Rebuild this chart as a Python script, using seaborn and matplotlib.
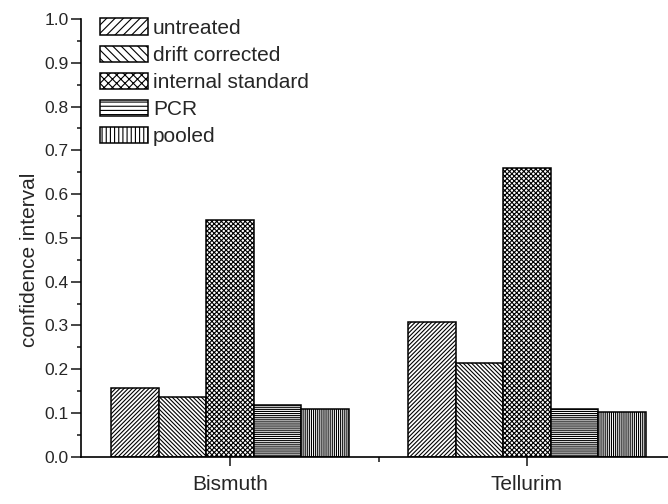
import matplotlib
matplotlib.use("Agg")
import matplotlib.pyplot as plt
from matplotlib.ticker import MultipleLocator, FixedLocator
import seaborn as sns
import pandas as pd

# Confidence interval per element and calibration method
elements = ["Bismuth", "Tellurim"]
methods = ["untreated", "drift corrected", "internal standard", "PCR", "pooled"]
bismuth_ci = [0.156, 0.137, 0.540, 0.119, 0.108]
tellurim_ci = [0.307, 0.215, 0.660, 0.108, 0.101]

# coarser hatches for the legend keys, finer ones inside the bars
legend_hatches = ["////", "\\\\\\\\", "xxxx", "----", "||||"]
bar_hatches = ["/" * 8, "\\" * 8, "x" * 7, "-" * 8, "|" * 8]

rows = []
for el, vals in zip(elements, [bismuth_ci, tellurim_ci]):
    for m, v in zip(methods, vals):
        rows.append({"element": el, "method": m, "ci": v})
df = pd.DataFrame(rows)

sns.set_style("ticks")
plt.rcParams["font.family"] = ["Liberation Sans", "DejaVu Sans"]
plt.rcParams["hatch.linewidth"] = 0.8
plt.rcParams["hatch.color"] = "black"

fig = plt.figure(figsize=(6.68, 5.04), dpi=100)
ax = fig.add_axes([81 / 668, 47.3 / 504, 1 - 81 / 668, (456.7 - 19) / 504])

sns.barplot(
    data=df, x="element", y="ci", hue="method", hue_order=methods,
    order=elements, palette=["white"] * len(methods), saturation=1,
    edgecolor="black", linewidth=1.1, width=0.8, ax=ax, legend=True,
)
ax.get_legend().remove()

# legend keys take the hatch of the first bar in each container
for container, h in zip(ax.containers, legend_hatches):
    for bar in container:
        bar.set_hatch(h)
fig.legend(
    handles=list(ax.containers), labels=methods,
    loc="upper left", bbox_to_anchor=(100 / 668, 1 - 18.5 / 504),
    bbox_transform=fig.transFigure, frameon=False, fontsize=15,
    handlelength=2.3, handleheight=0.85, handletextpad=0.25,
    labelspacing=0.36, borderpad=0, borderaxespad=0,
)
for container, h in zip(ax.containers, bar_hatches):
    for bar in container:
        bar.set_hatch(h)

ax.set_xlim(-0.502, 1.475)
ax.set_ylim(0, 1.0)
ax.yaxis.set_major_locator(MultipleLocator(0.1))
ax.yaxis.set_minor_locator(MultipleLocator(0.05))
ax.xaxis.set_minor_locator(FixedLocator([0.5]))

ax.set_xlabel("")
ax.set_ylabel("confidence interval", fontsize=15, labelpad=4)
ax.yaxis.label.set_y(0.45)

for side in ["top", "right"]:
    ax.spines[side].set_visible(False)
for side in ["left", "bottom"]:
    ax.spines[side].set_linewidth(1.2)
    ax.spines[side].set_color("black")

ax.tick_params(axis="y", which="major", length=7, width=1.2, labelsize=12.5, pad=2, direction="out")
ax.tick_params(axis="y", which="minor", length=3, width=1.2, direction="out")
ax.tick_params(axis="x", which="major", length=6.5, width=1.2, labelsize=15, pad=6.5, direction="out")
ax.tick_params(axis="x", which="minor", length=3.5, width=1.2, direction="out")
ax.set_yticklabels([f"{v:.1f}" for v in ax.get_yticks()])

fig.savefig("out.png", dpi=100)
